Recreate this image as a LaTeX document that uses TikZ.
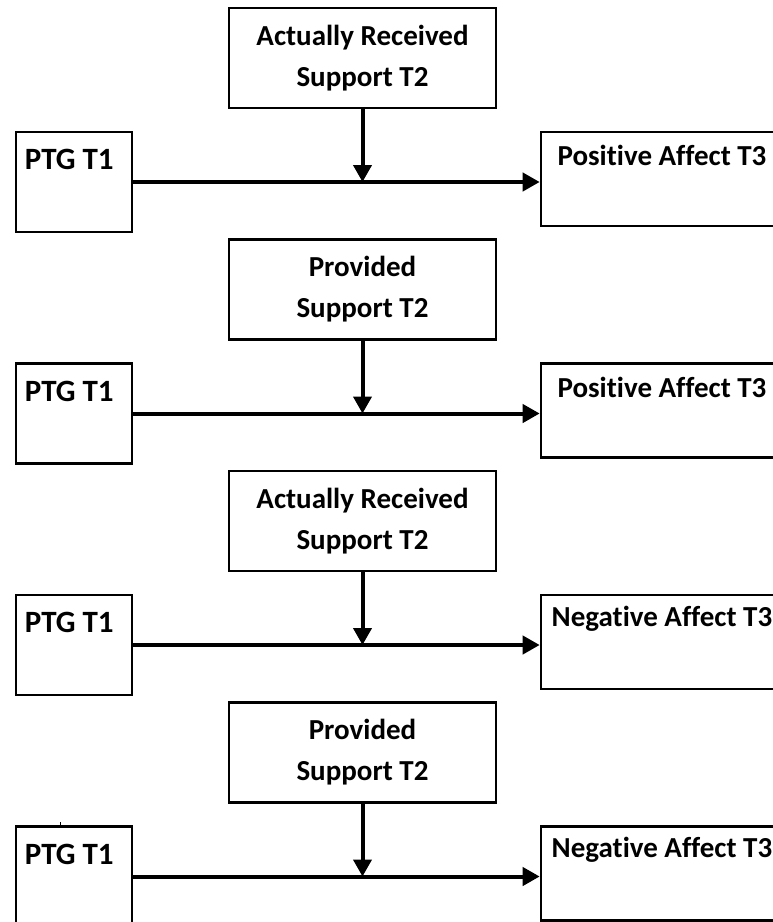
\documentclass[tikz,border=0pt]{standalone}
\usepackage{fontspec}
\setmainfont[Ligatures=NoCommon]{Carlito}
\usetikzlibrary{arrows.meta}
\begin{document}
\begin{tikzpicture}[x=1pt,y=-1pt,
  box/.style={draw=black, line width=2.6pt, rectangle, inner sep=0pt},
  txt/.style={font=\fontsize{29}{41}\selectfont\bfseries, inner sep=0pt, align=center},
  ptgtxt/.style={font=\fontsize{31}{41}\selectfont\bfseries, inner sep=0pt},
  arr/.style={line width=4pt, -{Triangle[length=17pt,width=18pt]}}]
\useasboundingbox (0,0) rectangle (773,922);
\clip (0,0) rectangle (773,922);
\fill[white] (0,0) rectangle (773,922);
\foreach \i/\dy/\mod/\out in {1/0/{Actually Received\\Support T2}/{Positive Affect T3},
                              2/231.5/{Provided\\Support T2}/{Positive Affect T3},
                              3/463/{Actually Received\\Support T2}/{Negative Affect T3},
                              4/694.5/{Provided\\Support T2}/{Negative Affect T3}}{
  \node[box, txt, minimum width=267pt, minimum height=100pt] (m\i) at (362.5,58+\dy) {\mod};
  \node[box, minimum width=116pt, minimum height=100pt,
        label={[ptgtxt, anchor=west, xshift=10pt, yshift=-29pt]north west:PTG T1}] (p\i) at (74,182+\dy) {};
  \node[box, minimum width=242pt, minimum height=94pt,
        label={[txt, anchor=center, yshift=-25pt]north:\out}] (r\i) at (662,179+\dy) {};
  \coordinate (j\i) at (m\i.south |- p\i.east);
  \draw[arr] (p\i.east) -- (r\i.west |- p\i.east);
  \draw[arr] (m\i.south) -- (j\i);
}
\coordinate (t1) at (60,822);
\coordinate (t2) at (60,828);
\draw[line width=0.8pt] (t1) -- (t2);
\end{tikzpicture}
\end{document}
